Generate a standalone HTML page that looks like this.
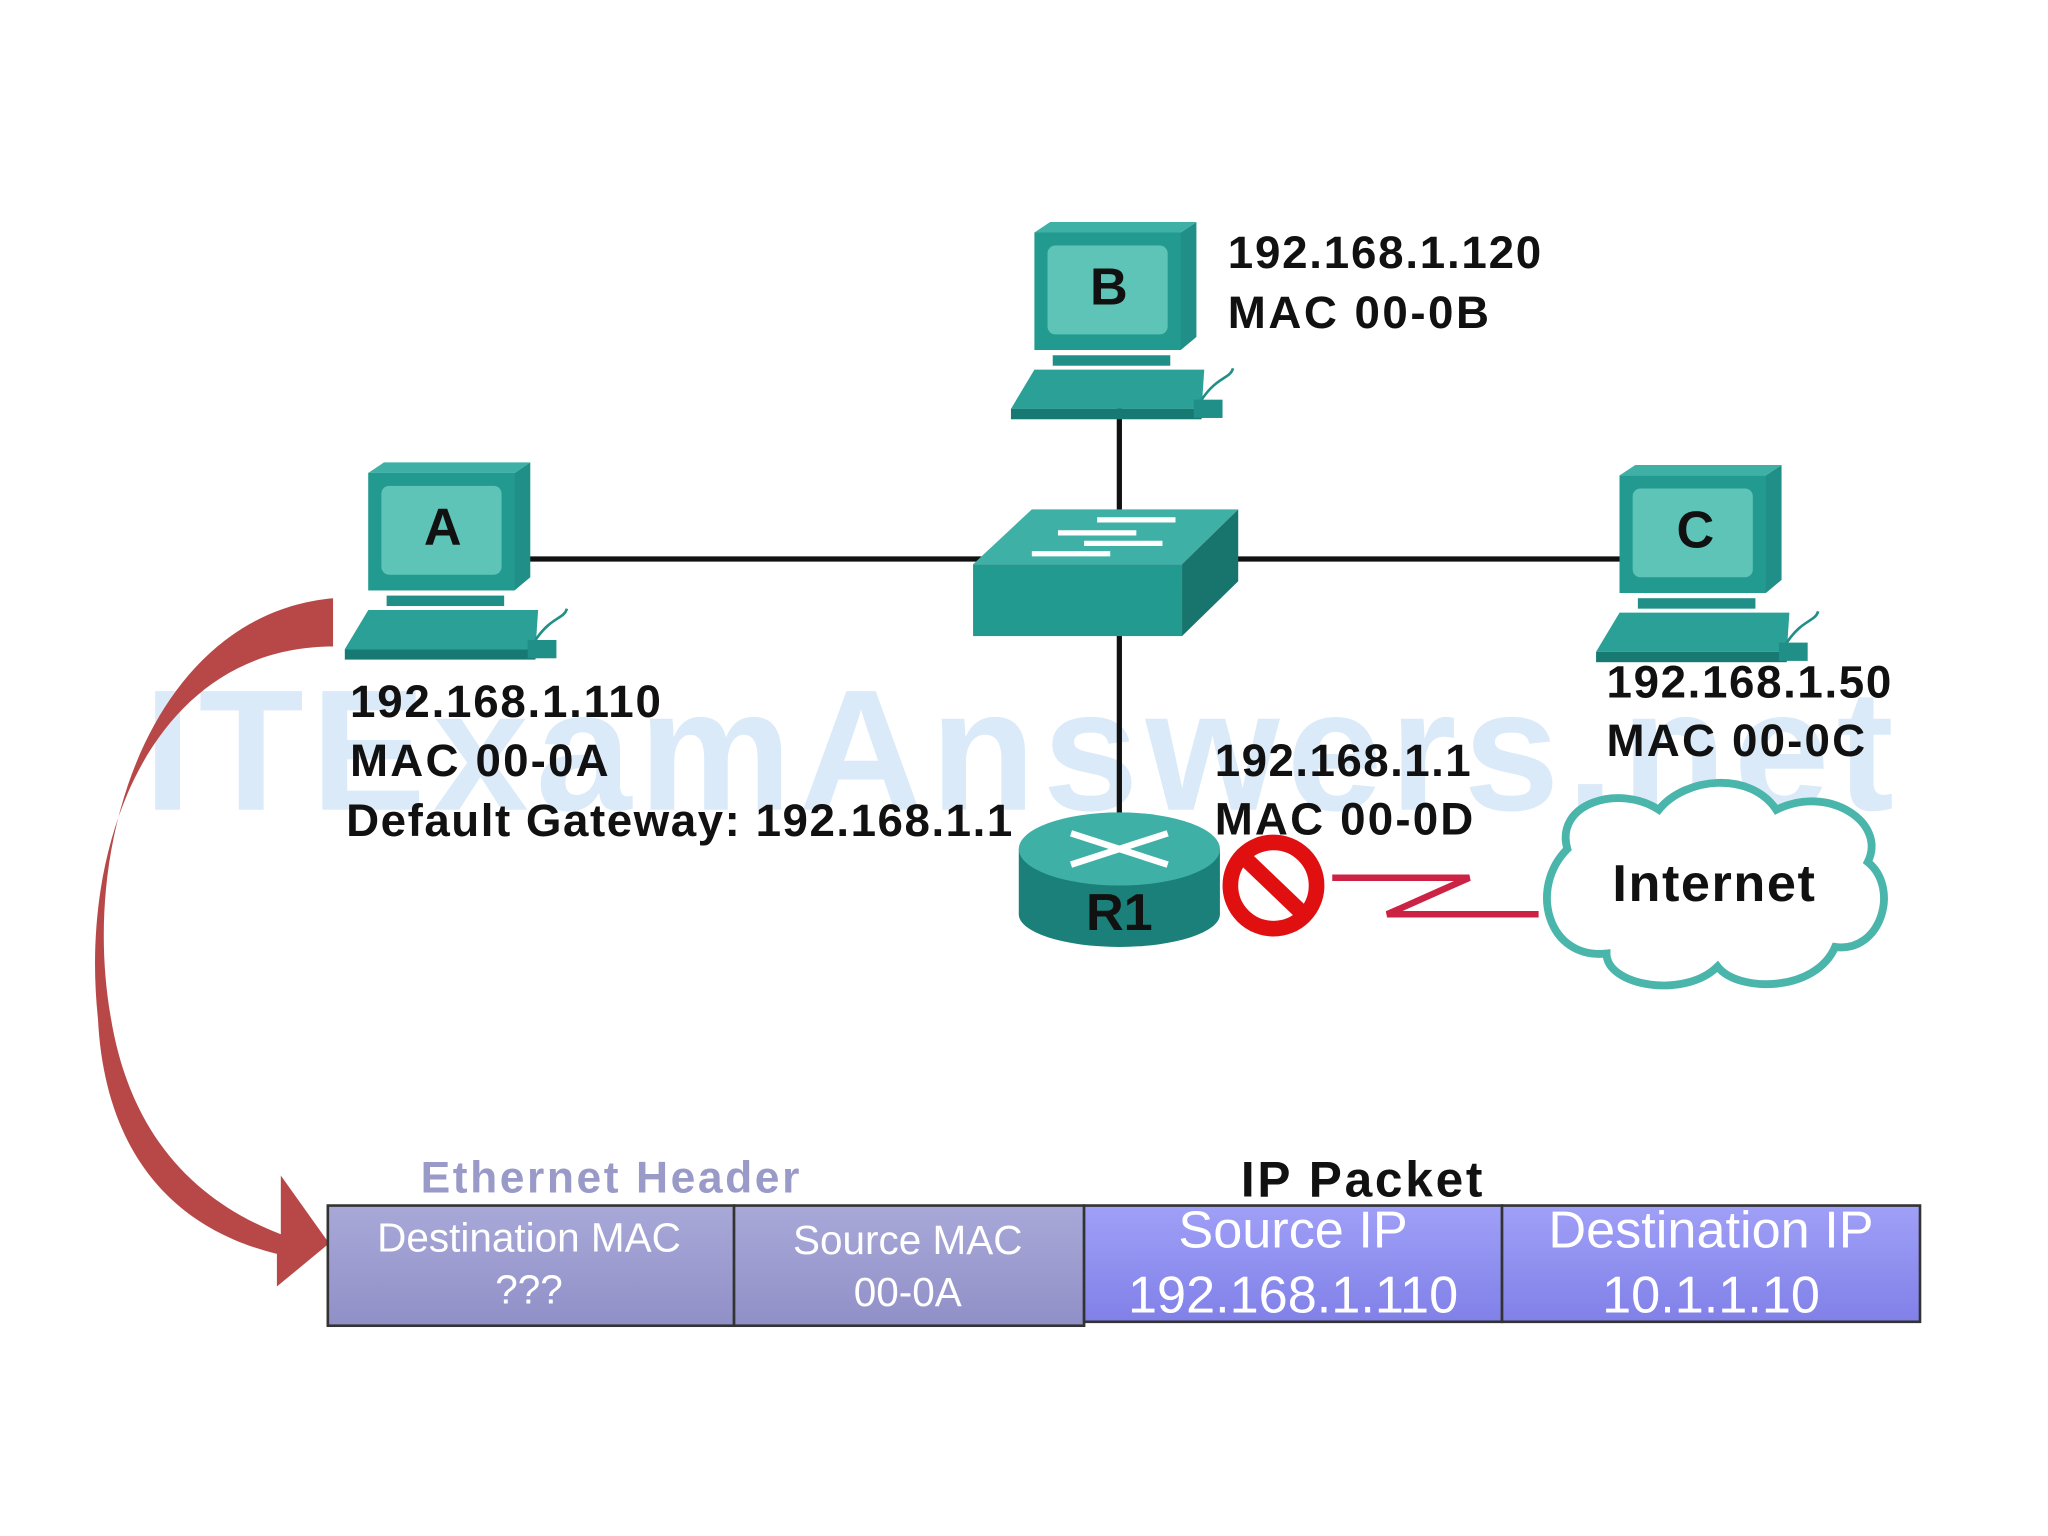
<!DOCTYPE html>
<html><head><style>html,body{margin:0;padding:0;background:#fff}svg{display:block}</style></head><body>
<svg width="2048" height="1536" viewBox="0 0 1568 1176" xmlns="http://www.w3.org/2000/svg" font-family="Liberation Sans, Arial, sans-serif">
<defs>
<linearGradient id="ip" x1="0" y1="0" x2="0" y2="1"><stop offset="0" stop-color="#a0a0f8"/><stop offset="1" stop-color="#8080e8"/></linearGradient>
<linearGradient id="eth" x1="0" y1="0" x2="0" y2="1"><stop offset="0" stop-color="#a8a8d8"/><stop offset="1" stop-color="#9090c8"/></linearGradient>
<g id="pc">
<polygon points="0,0 112,0 124,-8 124,80 112,90 0,90" fill="#1f8f87"/>
<rect x="0" y="0" width="112" height="90" fill="#229a90"/>
<rect x="10" y="10" width="92" height="68" rx="6" fill="#5ec4b8"/>
<polygon points="0,-0 12,-8 124,-8 112,0" fill="#3fb0a6"/>
<rect x="14" y="94" width="90" height="8" fill="#1f8f87"/>
<polygon points="-18,135 0,105 130,105 128,135" fill="#2aa096"/>
<rect x="-18" y="135" width="146" height="8" fill="#167a72"/>
<rect x="122" y="128" width="22" height="14" fill="#1f8f87"/>
<path d="M128,128 C140,110 150,112 152,104" stroke="#1f8f87" stroke-width="2" fill="none"/>
</g>
</defs>
<text x="110" y="620" font-size="132" font-weight="bold" fill="#d6e8f8" opacity="0.9" textLength="1340">ITExamAnswers.net</text>
<g stroke="#111" stroke-width="4">
<line x1="405" y1="428" x2="760" y2="428"/><line x1="940" y1="428" x2="1240" y2="428"/>
<line x1="857" y1="310" x2="857" y2="395"/><line x1="857" y1="485" x2="857" y2="630"/>
</g>
<use href="#pc" x="282" y="362"/>
<use href="#pc" x="792" y="178"/>
<use href="#pc" x="1240" y="364"/>
<g font-weight="bold" font-size="40" text-anchor="middle" fill="#111">
<text x="339" y="417">A</text><text x="849" y="233">B</text><text x="1298" y="419">C</text></g>
<polygon points="745,432 790,390 948,390 905,432" fill="#3fb0a6"/>
<polygon points="905,432 948,390 948,445 905,487" fill="#17756e"/>
<rect x="745" y="432" width="160" height="55" fill="#229a90"/>
<g stroke="#fff" stroke-width="4"><line x1="840" y1="398" x2="900" y2="398"/><line x1="810" y1="408" x2="870" y2="408"/><line x1="830" y1="416" x2="890" y2="416"/><line x1="790" y1="424" x2="850" y2="424"/></g>
<path d="M780,650 L780,700 A77,25 0 0 0 934,700 L934,650 Z" fill="#1a8079"/>
<ellipse cx="857" cy="650" rx="77" ry="28" fill="#3fb0a6"/>
<g stroke="#fff" stroke-width="5"><line x1="820" y1="638" x2="894" y2="662"/><line x1="820" y1="662" x2="894" y2="638"/></g>
<text x="857" y="712" font-size="40" font-weight="bold" text-anchor="middle" fill="#111">R1</text>
<polyline points="1020,672 1125,672 1062,700 1178,700" stroke="#cc2244" stroke-width="5" fill="none"/>
<circle cx="975" cy="678" r="33" fill="none" stroke="#e01010" stroke-width="12"/>
<line x1="952" y1="656" x2="998" y2="700" stroke="#e01010" stroke-width="12"/>
<path d="M1200,650 C1190,615 1240,600 1270,620 C1290,595 1340,590 1360,620 C1400,600 1445,630 1430,660 C1455,680 1440,730 1405,725 C1390,760 1330,760 1315,740 C1290,765 1230,755 1230,730 C1185,735 1170,680 1200,650 Z" fill="#fff" stroke="#4ab5aa" stroke-width="6"/>
<text x="1312" y="690" font-size="40" font-weight="bold" text-anchor="middle" fill="#111" textLength="155">Internet</text>
<g font-size="35" font-weight="bold" fill="#111" lengthAdjust="spacingAndGlyphs">
<text x="940" y="205" textLength="240">192.168.1.120</text><text x="940" y="251" textLength="200">MAC 00-0B</text>
<text x="268" y="549" textLength="238">192.168.1.110</text><text x="268" y="594" textLength="198">MAC 00-0A</text>
<text x="265" y="640" textLength="510">Default Gateway: 192.168.1.1</text>
<text x="930" y="594" textLength="196">192.168.1.1</text><text x="930" y="639" textLength="198">MAC 00-0D</text>
<text x="1230" y="534" textLength="218">192.168.1.50</text><text x="1230" y="579" textLength="198">MAC 00-0C</text>
</g>
<path d="M255,458 C120,470 60,640 85,780 C100,870 150,920 215,945 L215,900 L252,952 L212,985 L212,960 C130,940 80,880 75,780 C60,640 120,495 255,495 Z" fill="#b84848"/>
<text x="322" y="913" font-size="34" font-weight="bold" fill="#9a9ac8" textLength="290">Ethernet Header</text>
<text x="950" y="916" font-size="38" font-weight="bold" fill="#111" textLength="185">IP Packet</text>
<rect x="251" y="923" width="311" height="92" fill="url(#eth)" stroke="#333" stroke-width="2"/>
<rect x="562" y="923" width="268" height="92" fill="url(#eth)" stroke="#333" stroke-width="2"/>
<rect x="830" y="923" width="320" height="89" fill="url(#ip)" stroke="#333" stroke-width="2"/>
<rect x="1150" y="923" width="320" height="89" fill="url(#ip)" stroke="#333" stroke-width="2"/>
<g fill="#fff" text-anchor="middle">
<text x="405" y="958" font-size="31">Destination  MAC</text><text x="405" y="998" font-size="31">???</text>
<text x="695" y="960" font-size="31">Source MAC</text><text x="695" y="1000" font-size="31">00-0A</text>
<text x="990" y="955" font-size="40">Source IP</text><text x="990" y="1005" font-size="40">192.168.1.110</text>
<text x="1310" y="955" font-size="40">Destination IP</text><text x="1310" y="1005" font-size="40">10.1.1.10</text>
</g>
</svg>
</body></html>
